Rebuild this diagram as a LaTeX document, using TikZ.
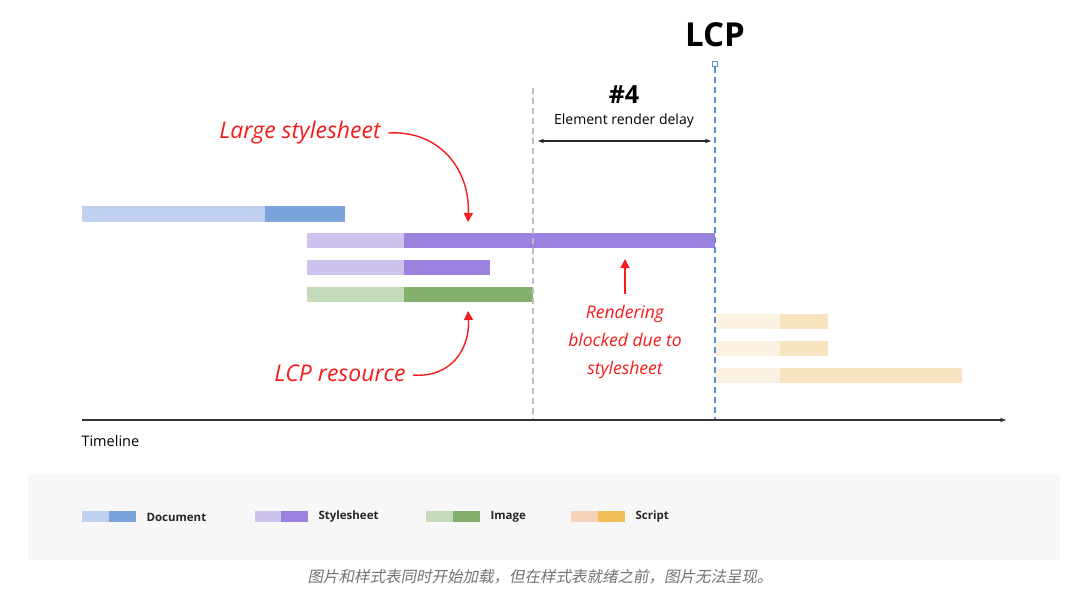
\documentclass[tikz,border=0pt]{standalone}
\usepackage{fontspec}
\setmainfont{Open Sans}
\newfontfamily\cjk[FakeSlant=0.2]{Noto Sans CJK SC}
\usetikzlibrary{arrows.meta}
\definecolor{docL}{HTML}{BFD1EF}\definecolor{docD}{HTML}{7BA3DC}
\definecolor{styL}{HTML}{CEC2EF}\definecolor{styD}{HTML}{9B82DF}
\definecolor{imgL}{HTML}{C5DAB9}\definecolor{imgD}{HTML}{84B06D}
\definecolor{scrL}{HTML}{FBF2E3}\definecolor{scrD}{HTML}{F9E4C1}
\definecolor{legscrL}{HTML}{F6D3B8}\definecolor{legscrD}{HTML}{EFC05A}
\definecolor{annred}{HTML}{F41C1C}
\definecolor{lcpblue}{HTML}{5B8FD6}
\tikzset{
  hand/.style={text=annred,font=\fontsize{23}{27}\selectfont\itshape},
  redarrow/.style={draw=annred,line width=1.4pt,-{Triangle[length=9pt,width=9pt]}},
  legtext/.style={anchor=west,font=\fontsize{11.5}{13}\selectfont\bfseries,text=black!85},
}
\begin{document}
\begin{tikzpicture}[x=1pt,y=-1pt]
\useasboundingbox (0,0) rectangle (1080,605);
\fill[white] (0,0) rectangle (1080,605);
% bars
\fill[docL] (82,206) rectangle (265,222); \fill[docD] (265,206) rectangle (345,222);
\fill[styL] (307,233) rectangle (404,248); \fill[styD] (404,233) rectangle (715,248);
\fill[styL] (307,260) rectangle (404,275); \fill[styD] (404,260) rectangle (490,275);
\fill[imgL] (307,287) rectangle (404,302); \fill[imgD] (404,287) rectangle (533,302);
\fill[scrL] (715,314) rectangle (780,329); \fill[scrD] (780,314) rectangle (828,329);
\fill[scrL] (715,341) rectangle (780,356); \fill[scrD] (780,341) rectangle (828,356);
\fill[scrL] (715,368) rectangle (780,383); \fill[scrD] (780,368) rectangle (962,383);
% vertical markers
\coordinate (gtop) at (533,88); \coordinate (gbot) at (533,420);
\draw[black!25,line width=1.2pt,dash pattern=on 6pt off 4pt] (gtop) -- (gbot);
\node[draw=lcpblue,fill=white,line width=1pt,minimum size=4.5pt,inner sep=0pt] (sq) at (715,64) {};
\coordinate (bbot) at (715,420);
\draw[lcpblue,line width=1.2pt,dash pattern=on 6pt off 4pt] (sq.south) -- (bbot);
% titles
\node[font=\fontsize{33}{36}\selectfont\bfseries] (lcp) at (715,35) {LCP};
\node[font=\fontsize{25}{28}\selectfont\bfseries] (num) at (624,95) {\#4};
\node[font=\fontsize{14}{16}\selectfont] (erd) at (624,121) {Element render delay};
\coordinate (al) at (538,141); \coordinate (ar) at (711,141);
\draw[black!85,line width=1.1pt,{Stealth[length=6pt]}-{Stealth[length=6pt]}] (al) -- (ar);
% timeline
\coordinate (t0) at (82,420); \coordinate (t1) at (1006,420);
\draw[black!80,line width=1.3pt,-{Stealth[length=6pt]}] (t0) -- (t1);
\node[anchor=west,font=\fontsize{14.5}{16}\selectfont] (tl) at (78,441) {Timeline};
% annotations
\node[hand] (large) at (300,133) {Large stylesheet};
\coordinate (largeend) at (468,222);
\draw[redarrow] (large.east) ++(4,0) .. controls (440,130) and (470,170) .. (largeend);
\node[hand] (lcpres) at (340,373) {LCP resource};
\coordinate (resend) at (468,311);
\draw[redarrow] (lcpres.east) ++(4,2) .. controls (450,378) and (470,350) .. (resend);
\node[hand,align=center,font=\fontsize{17.5}{28}\selectfont\itshape] (block) at (625,342) {Rendering\\blocked due to\\stylesheet};
\coordinate (blockend) at (625,259);
\draw[redarrow] (block.north) ++(0,-8) -- (blockend);
% legend
\fill[black!3] (28,474) rectangle (1060,560);
\fill[docL] (82,511) rectangle (109,522); \fill[docD] (109,511) rectangle (136,522);
\node[legtext] (ld) at (143,517) {Document};
\fill[styL] (255,511) rectangle (281,522); \fill[styD] (281,511) rectangle (308,522);
\node[legtext] (ls) at (315,517) {Stylesheet};
\fill[imgL] (426,511) rectangle (453,522); \fill[imgD] (453,511) rectangle (480,522);
\node[legtext] (li) at (487,517) {Image};
\fill[legscrL] (571,511) rectangle (598,522); \fill[legscrD] (598,511) rectangle (625,522);
\node[legtext] (lsc) at (632,517) {Script};
% caption
\node[text=black!55,font=\cjk\fontsize{15.5}{18}\selectfont] (cap) at (540,577) {图片和样式表同时开始加载，但在样式表就绪之前，图片无法呈现。};
\end{tikzpicture}
\end{document}
